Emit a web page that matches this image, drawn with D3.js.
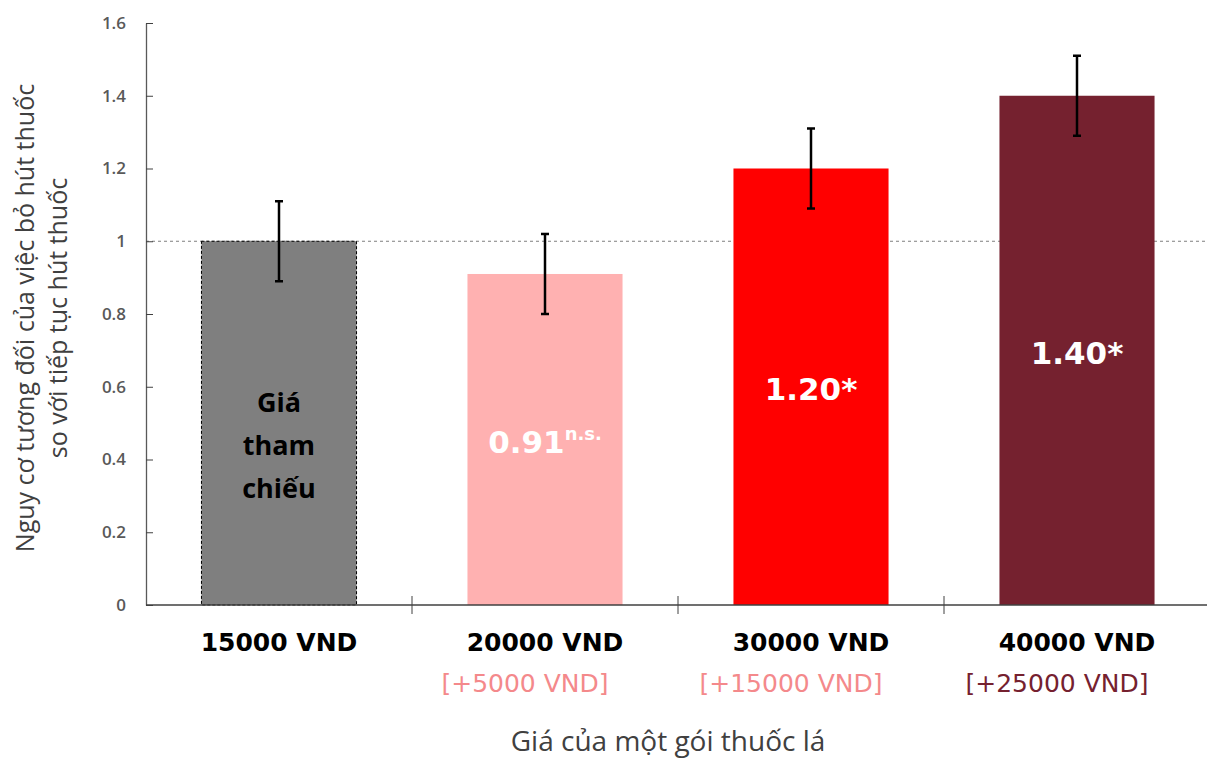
<!DOCTYPE html>
<html>
<head>
<meta charset="utf-8">
<script src="https://cdn.jsdelivr.net/npm/d3@7"></script>
<style>
  body { margin: 0; background: #fff; }
  svg { display: block; }
</style>
</head>
<body>
<svg width="1207" height="760"></svg>
<script>
// data
var categories = ["15000 VND", "20000 VND", "30000 VND", "40000 VND"];
var increases = ["", "[+5000 VND]", "[+15000 VND]", "[+25000 VND]"];
var values = [1.00, 0.91, 1.20, 1.40];
var lowerCI = [0.89, 0.80, 1.09, 1.29];
var upperCI = [1.11, 1.02, 1.31, 1.51];
var valueLabels = ["", "0.91", "1.20*", "1.40*"];
var valueSup = ["", "n.s.", "", ""];
var yTicks = [0, 0.2, 0.4, 0.6, 0.8, 1, 1.2, 1.4, 1.6];

var barColors = ["#7f7f7f", "#ffb1b1", "#ff0000", "#75212f"];
var subColors = ["#000", "#f4898b", "#f4898b", "#75212f"];

var svg = d3.select("svg");
var mLeft = 146, mRight = 1210, mTop = 23, mBottom = 605;

var x = d3.scaleBand().domain(categories).range([mLeft, mRight]).paddingInner(0).paddingOuter(0);
var y = d3.scaleLinear().domain([0, 1.6]).range([mBottom, mTop]);
var barW = x.bandwidth() * 0.583;

// reference line at 1
svg.append("line")
    .attr("x1", mLeft).attr("x2", 1207)
    .attr("y1", y(1)).attr("y2", y(1))
    .attr("stroke", "#7f7f7f").attr("stroke-width", 1)
    .attr("stroke-dasharray", "3,3");

// bars
svg.selectAll("rect.bar")
    .data(values)
    .enter()
    .append("rect")
    .attr("class", "bar")
    .attr("x", function (d, i) { return x(categories[i]) + (x.bandwidth() - barW) / 2; })
    .attr("y", function (d) { return y(d); })
    .attr("width", barW)
    .attr("height", function (d) { return y(0) - y(d); })
    .attr("fill", function (d, i) { return barColors[i]; })
    .attr("stroke", function (d, i) { return i == 0 ? "#000" : "none"; })
    .attr("stroke-width", 1)
    .attr("stroke-dasharray", function (d, i) { return i == 0 ? "3,2" : null; });

// error bars
var eb = svg.selectAll("g.err")
    .data(values)
    .enter()
    .append("g")
    .attr("class", "err")
    .attr("transform", function (d, i) { return "translate(" + (x(categories[i]) + x.bandwidth() / 2) + ",0)"; });
eb.append("line")
    .attr("y1", function (d, i) { return y(lowerCI[i]); })
    .attr("y2", function (d, i) { return y(upperCI[i]); })
    .attr("stroke", "#000").attr("stroke-width", 2.5);
eb.append("line")
    .attr("x1", -4).attr("x2", 4)
    .attr("y1", function (d, i) { return y(lowerCI[i]); })
    .attr("y2", function (d, i) { return y(lowerCI[i]); })
    .attr("stroke", "#000").attr("stroke-width", 2.5);
eb.append("line")
    .attr("x1", -4).attr("x2", 4)
    .attr("y1", function (d, i) { return y(upperCI[i]); })
    .attr("y2", function (d, i) { return y(upperCI[i]); })
    .attr("stroke", "#000").attr("stroke-width", 2.5);

// y axis
var yAxis = d3.axisLeft(y).tickValues(yTicks).tickSizeInner(-7).tickSizeOuter(0)
    .tickPadding(20)
    .tickFormat(function (d) { return d == 1 || d == 0 ? d3.format("d")(d) : d3.format(".1f")(d); });
var gy = svg.append("g")
    .attr("transform", "translate(" + mLeft + ",0)")
    .call(yAxis);
gy.select(".domain").attr("stroke", "#595959").attr("stroke-width", 1.3);
gy.selectAll(".tick line").attr("stroke", "#404040");
gy.selectAll("text")
    .attr("font-family", "Open Sans")
    .attr("font-weight", 600)
    .attr("font-size", 17)
    .attr("fill", "#595959");

// x axis
svg.append("line")
    .attr("x1", mLeft).attr("x2", 1207)
    .attr("y1", mBottom).attr("y2", mBottom)
    .attr("stroke", "#404040").attr("stroke-width", 1.3);
svg.selectAll("line.xtick")
    .data(categories.slice(1))
    .enter()
    .append("line")
    .attr("class", "xtick")
    .attr("x1", function (d) { return x(d); })
    .attr("x2", function (d) { return x(d); })
    .attr("y1", mBottom - 9).attr("y2", mBottom + 9)
    .attr("stroke", "#404040").attr("stroke-width", 1);

// category labels
svg.selectAll("text.cat")
    .data(categories)
    .enter()
    .append("text")
    .attr("class", "cat")
    .attr("x", function (d) { return x(d) + x.bandwidth() / 2; })
    .attr("y", 651)
    .attr("text-anchor", "middle")
    .attr("font-family", "DejaVu Sans")
    .attr("font-weight", "bold")
    .attr("font-size", 25)
    .attr("fill", "#000")
    .text(function (d) { return d; });

svg.selectAll("text.sub")
    .data(increases)
    .enter()
    .append("text")
    .attr("class", "sub")
    .attr("x", function (d, i) { return x(categories[i]) + x.bandwidth() / 2 - 20; })
    .attr("y", 692)
    .attr("text-anchor", "middle")
    .attr("font-family", "DejaVu Sans")
    .attr("font-size", 25)
    .attr("fill", function (d, i) { return subColors[i]; })
    .text(function (d) { return d; });

// labels inside bars
var vl = svg.selectAll("text.val")
    .data(valueLabels)
    .enter()
    .append("text")
    .attr("class", "val")
    .attr("x", function (d, i) { return x(categories[i]) + x.bandwidth() / 2; })
    .attr("y", function (d, i) { return i == 1 ? 453 : (i == 2 ? 400 : 364); })
    .attr("text-anchor", "middle")
    .attr("font-family", "DejaVu Sans")
    .attr("font-weight", "bold")
    .attr("font-size", 31)
    .attr("fill", "#fff");
vl.append("tspan").text(function (d) { return d; });
vl.append("tspan")
    .attr("font-size", 18)
    .attr("dy", -13)
    .text(function (d, i) { return valueSup[i]; });

var refLines = ["Giá", "tham", "chiếu"];
svg.append("text")
    .attr("x", x(categories[0]) + x.bandwidth() / 2)
    .attr("y", 412)
    .attr("text-anchor", "middle")
    .attr("font-family", "Open Sans")
    .attr("font-weight", "bold")
    .attr("font-size", 27)
    .attr("fill", "#000")
    .selectAll("tspan")
    .data(refLines)
    .enter()
    .append("tspan")
    .attr("x", x(categories[0]) + x.bandwidth() / 2)
    .attr("dy", function (d, i) { return i == 0 ? 0 : 43; })
    .text(function (d) { return d; });

// axis titles
svg.append("text")
    .attr("x", 668)
    .attr("y", 751)
    .attr("text-anchor", "middle")
    .attr("font-family", "Open Sans")
    .attr("font-size", 28)
    .attr("fill", "#404040")
    .text("Giá của một gói thuốc lá");

var yTitle = ["Nguy cơ tương đối của việc bỏ hút thuốc", "so với tiếp tục hút thuốc"];
svg.selectAll("text.ytitle")
    .data(yTitle)
    .enter()
    .append("text")
    .attr("class", "ytitle")
    .attr("transform", function (d, i) { return "translate(" + (34 + i * 33) + ",318)rotate(-90)"; })
    .attr("text-anchor", "middle")
    .attr("font-family", "Open Sans")
    .attr("font-size", 25)
    .attr("fill", "#404040")
    .text(function (d) { return d; });
</script>
</body>
</html>
